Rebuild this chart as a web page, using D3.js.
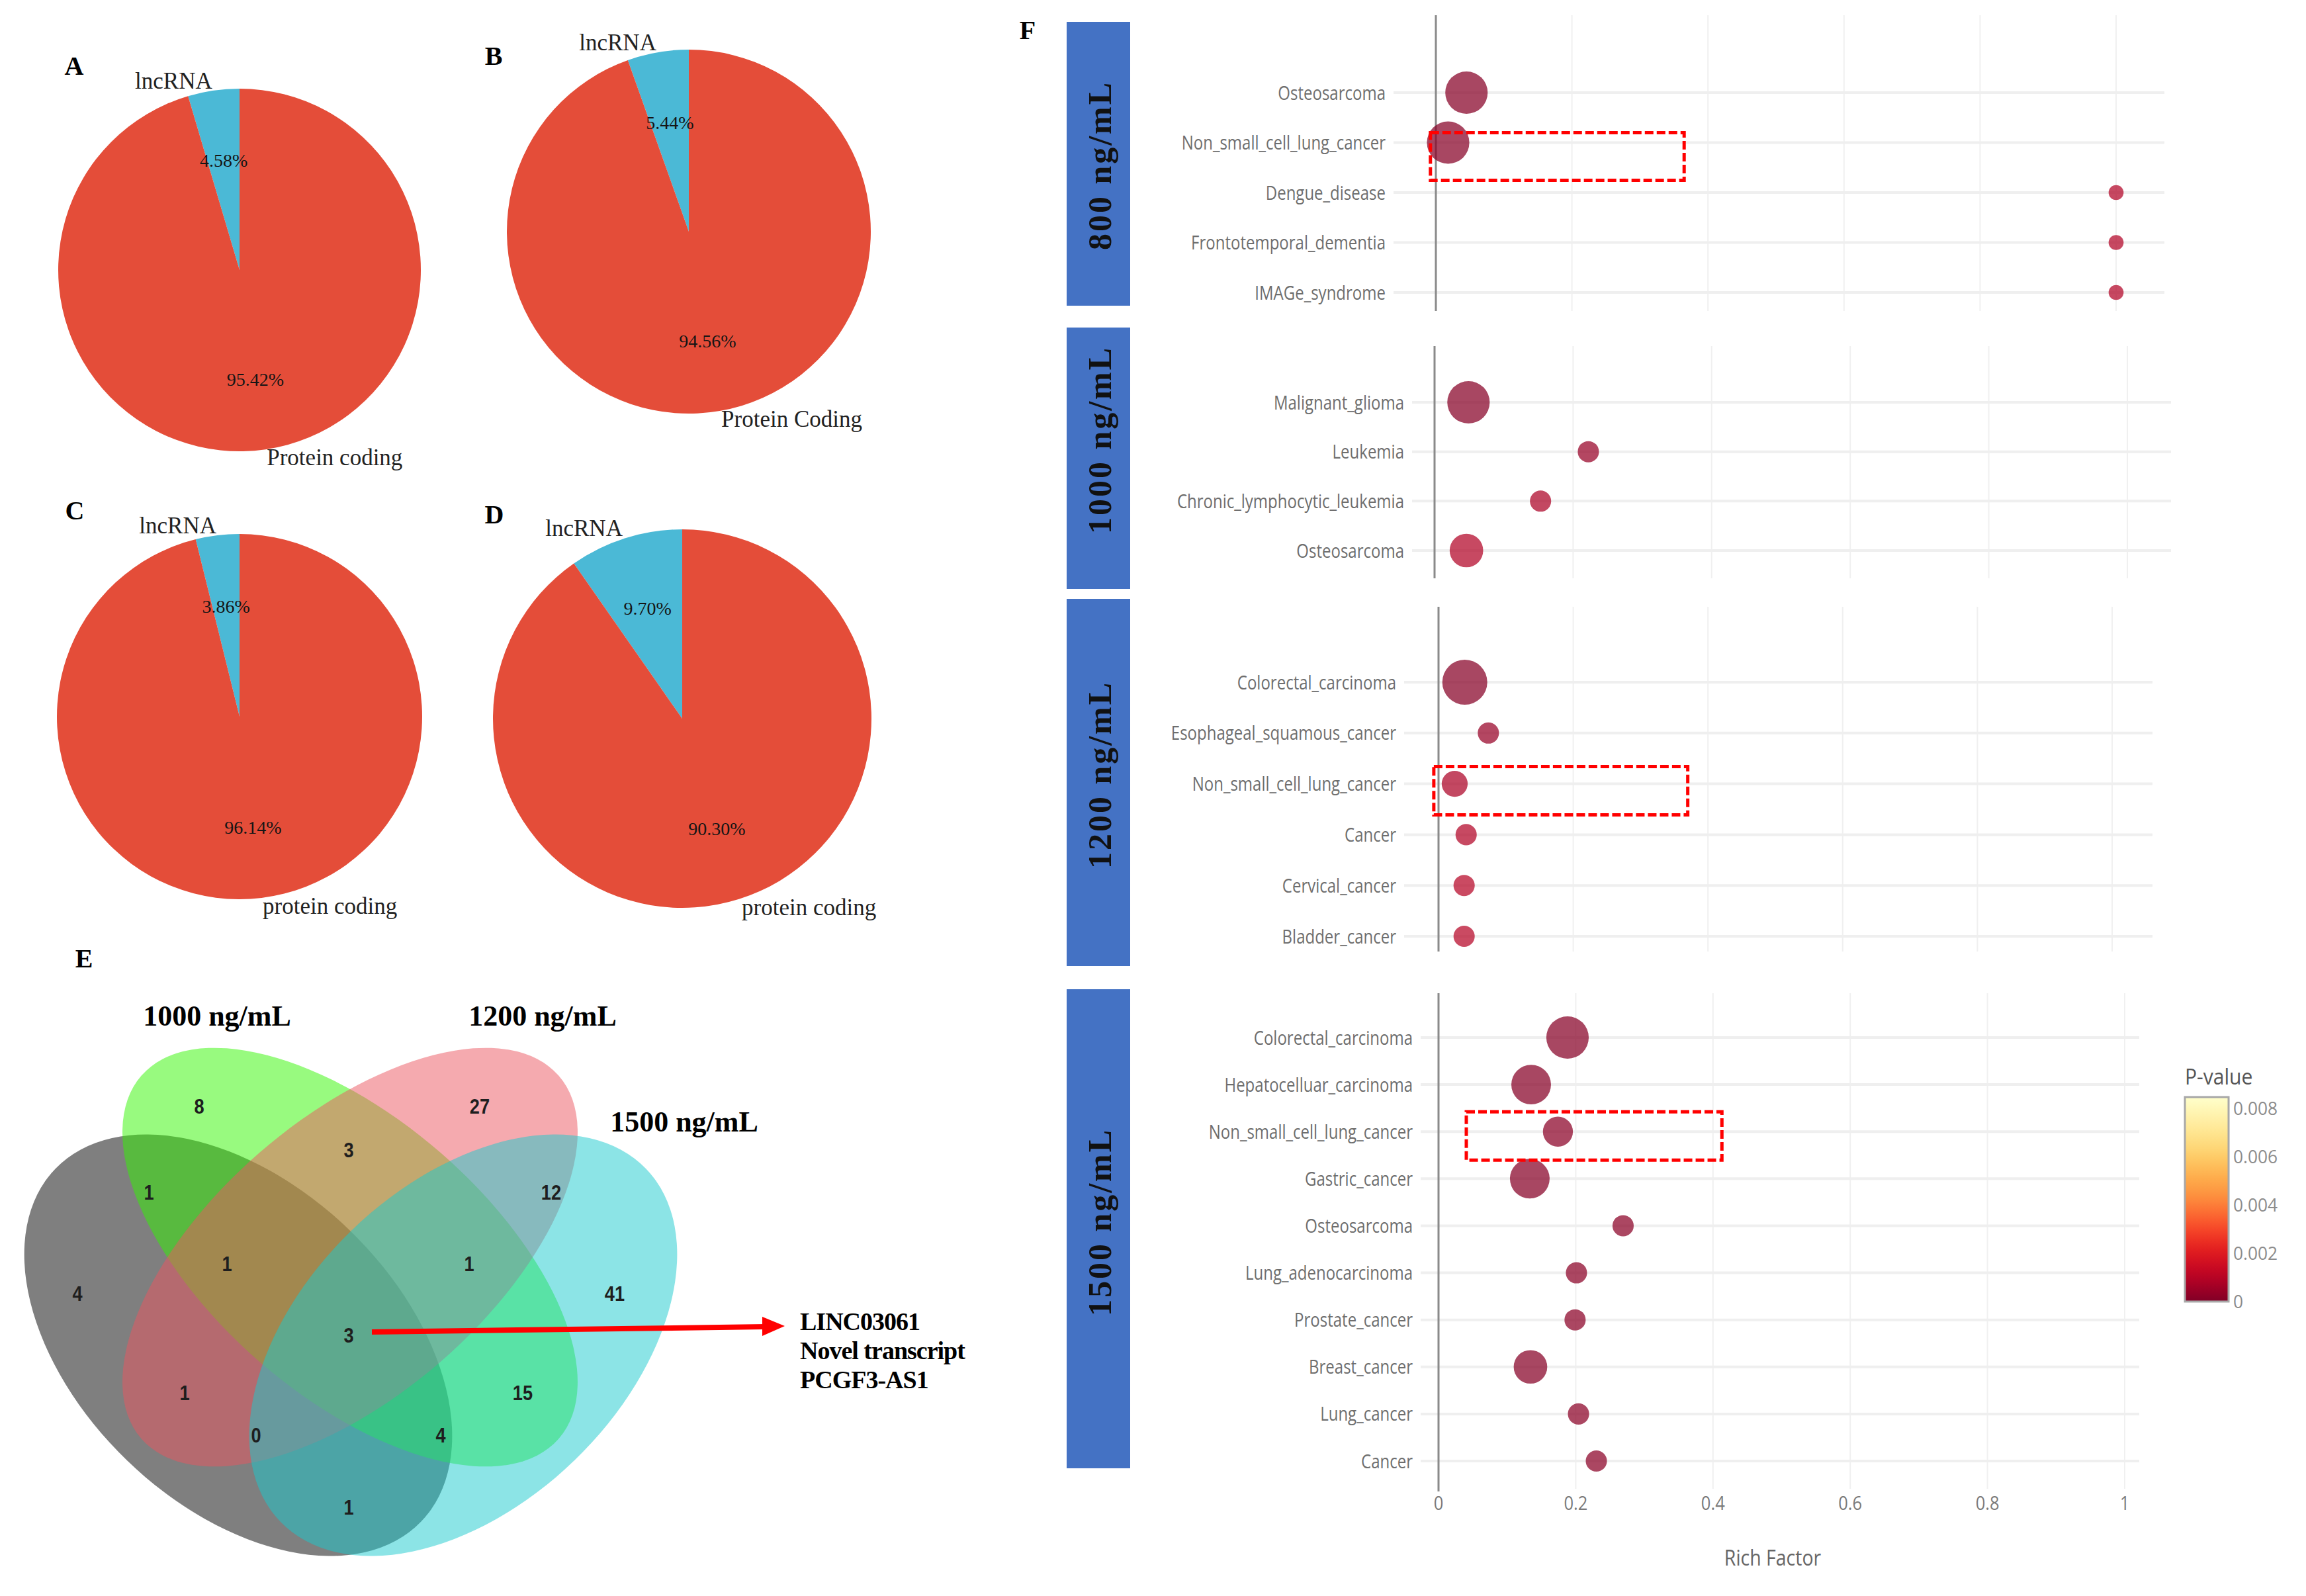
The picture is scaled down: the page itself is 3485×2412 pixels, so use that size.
<!DOCTYPE html>
<html>
<head>
<meta charset="utf-8">
<script src="https://cdn.jsdelivr.net/npm/d3@7"></script>
<style>
  html, body { margin: 0; padding: 0; background: #fff; }
  svg { display: block; }
</style>
</head>
<body>
<svg id="fig" width="3485" height="2412"></svg>
<script>
// ---- A-D : lncRNA vs protein coding
const pieLetters = ["A", "B", "C", "D"];
const lncPct = [4.58, 5.44, 3.86, 9.70];
const codingPct = [95.42, 94.56, 96.14, 90.30];
const codingNames = ["Protein coding", "Protein Coding", "protein coding", "protein coding"];

// ---- E : venn
const vennSetNames = ["", "1000 ng/mL", "1200 ng/mL", "1500 ng/mL"];
const vennRegions = ["G", "L", "P", "C", "GL", "GP", "GC", "LP", "LC", "PC", "GLP", "GLC", "GPC", "LPC", "GLPC"];
const vennCounts = [4, 8, 27, 41, 1, 1, 1, 3, 15, 12, 1, 4, 0, 1, 3];
const vennNote = ["LINC03061", "Novel transcript", "PCGF3-AS1"];

// ---- F : disease enrichment
const doseNames = ["800 ng/mL", "1000 ng/mL", "1200 ng/mL", "1500 ng/mL"];

const diseases800 = ["Osteosarcoma", "Non_small_cell_lung_cancer", "Dengue_disease", "Frontotemporal_dementia", "IMAGe_syndrome"];
const rich800 = [0.045, 0.018, 1.0, 1.0, 1.0];
const genes800 = [8, 8, 1, 1, 1];
const pval800 = [0.0001, 0.0001, 0.0009, 0.0009, 0.0009];

const diseases1000 = ["Malignant_glioma", "Leukemia", "Chronic_lymphocytic_leukemia", "Osteosarcoma"];
const rich1000 = [0.049, 0.222, 0.153, 0.046];
const genes1000 = [8, 2, 2, 5];
const pval1000 = [0.0001, 0.0004, 0.0008, 0.0009];

const diseases1200 = ["Colorectal_carcinoma", "Esophageal_squamous_cancer", "Non_small_cell_lung_cancer", "Cancer", "Cervical_cancer", "Bladder_cancer"];
const rich1200 = [0.039, 0.074, 0.024, 0.041, 0.038, 0.038];
const genes1200 = [9, 2, 3, 2, 2, 2];
const pval1200 = [0.0001, 0.0004, 0.0008, 0.0009, 0.001, 0.001];

const diseases1500 = ["Colorectal_carcinoma", "Hepatocelluar_carcinoma", "Non_small_cell_lung_cancer", "Gastric_cancer", "Osteosarcoma", "Lung_adenocarcinoma", "Prostate_cancer", "Breast_cancer", "Lung_cancer", "Cancer"];
const rich1500 = [0.188, 0.135, 0.174, 0.133, 0.269, 0.201, 0.199, 0.134, 0.204, 0.23];
const genes1500 = [8, 7, 4, 7, 2, 2, 2, 5, 2, 2];
const pval1500 = [0.0001, 0.0001, 0.0002, 0.0001, 0.0002, 0.0002, 0.0002, 0.0001, 0.0002, 0.0002];

const richTicks = [0, 0.2, 0.4, 0.6, 0.8, 1];
const pTicks = [0, 0.002, 0.004, 0.006, 0.008];
const pMax = 0.00847;

const SERIF = "'Liberation Serif', 'Times New Roman', serif";
const SANS = "'Open Sans', sans-serif";
const ARIAL = "'Liberation Sans', Arial, sans-serif";

const svg = d3.select("#fig");
svg.append("rect").attr("width", 3485).attr("height", 2412).attr("fill", "#fff");

// squeeze text horizontally (the source figure is narrowed)
function squeeze(sel, f) {
  sel.each(function () {
    const w = this.getComputedTextLength();
    d3.select(this).attr("textLength", w * f).attr("lengthAdjust", "spacingAndGlyphs");
  });
}

// ================= pies =================
const pieLayout = [
  { cx: 362, cy: 408, r: 274, lx: 112, ly: 99 },
  { cx: 1041, cy: 350, r: 275, lx: 746, ly: 84 },
  { cx: 362, cy: 1083, r: 276, lx: 113, ly: 771 },
  { cx: 1031, cy: 1086, r: 286, lx: 747, ly: 777 }
];

pieLetters.forEach((letter, i) => {
  const L = pieLayout[i];
  const start = -2 * Math.PI * lncPct[i] / 100;
  const pie = d3.pie().sort(null).value(d => d.v)
    .startAngle(start).endAngle(start + 2 * Math.PI);
  const slices = pie([
    { name: "lncRNA", v: lncPct[i], color: "#4bb9d6" },
    { name: codingNames[i], v: codingPct[i], color: "#e44d39" }
  ]);

  const g = svg.append("g").attr("transform", `translate(${L.cx},${L.cy})`);
  const arc = d3.arc().innerRadius(0).outerRadius(L.r);
  const pctArc = d3.arc().innerRadius(L.r * 0.61).outerRadius(L.r * 0.61);

  g.selectAll("path")
    .data(slices)
    .join("path")
    .attr("d", arc)
    .attr("fill", d => d.data.color);

  g.selectAll(".pct")
    .data(slices)
    .join("text")
    .attr("class", "pct")
    .attr("transform", d => `translate(${pctArc.centroid(d)})`)
    .attr("text-anchor", "middle")
    .attr("dy", "0.35em")
    .style("font-family", SERIF)
    .style("font-size", "28px")
    .style("fill", "#151515")
    .text(d => d.data.v.toFixed(2) + "%");

  g.selectAll(".name")
    .data(slices)
    .join("text")
    .attr("class", "name")
    .attr("x", d => {
      const a = (d.startAngle + d.endAngle) / 2;
      return L.r * 1.05 * Math.sin(a);
    })
    .attr("y", d => {
      const a = (d.startAngle + d.endAngle) / 2;
      return -L.r * 1.05 * Math.cos(a);
    })
    .attr("dy", "0.3em")
    .attr("text-anchor", d => ((d.startAngle + d.endAngle) / 2 < 0 ? "end" : "start"))
    .style("font-family", SERIF)
    .style("font-size", "35px")
    .style("fill", "#222")
    .text(d => d.data.name);

  svg.append("text")
    .attr("x", L.lx).attr("y", L.ly)
    .attr("text-anchor", "middle").attr("dy", "0.35em")
    .style("font-family", SERIF).style("font-size", "40px").style("font-weight", "bold")
    .text(letter);
});

// ================= venn =================
const vennShapes = [
  { cx: 360, cy: 2033, rx: 384, ry: 242, rot: 44, fill: "#000000" },
  { cx: 529, cy: 1900, rx: 418, ry: 209, rot: 41, fill: "#31f500" },
  { cx: 529, cy: 1900, rx: 418, ry: 209, rot: -41, fill: "#eb555f" },
  { cx: 700, cy: 2033, rx: 384, ry: 242, rot: -44, fill: "#19c9cd" }
];
const vennPos = {
  G: [117, 1955], L: [301, 1672], P: [725, 1672], C: [929, 1955],
  GL: [225, 1802], GP: [279, 2105], GC: [527, 2278], LP: [527, 1738],
  LC: [790, 2105], PC: [833, 1802], GLP: [343, 1910], GLC: [666, 2169],
  GPC: [387, 2169], LPC: [709, 1910], GLPC: [527, 2018]
};
const vennLabelPos = [null, [328, 1535], [820, 1535], [1034, 1695]];

const vg = svg.append("g");
vg.selectAll("ellipse")
  .data(vennShapes)
  .join("ellipse")
  .attr("rx", d => d.rx)
  .attr("ry", d => d.ry)
  .attr("transform", d => `translate(${d.cx},${d.cy}) rotate(${d.rot})`)
  .attr("fill", d => d.fill)
  .attr("fill-opacity", 0.5);

vg.selectAll(".cnt")
  .data(vennRegions.map((r, i) => ({ r, n: vennCounts[i] })))
  .join("text")
  .attr("class", "cnt")
  .attr("x", d => vennPos[d.r][0])
  .attr("y", d => vennPos[d.r][1])
  .attr("text-anchor", "middle")
  .attr("dy", "0.35em")
  .style("font-family", ARIAL)
  .style("font-size", "32px")
  .style("font-weight", "bold")
  .style("fill", "#1e1e1e")
  .text(d => d.n)
  .call(squeeze, 0.85);

vennSetNames.forEach((name, i) => {
  if (!name) return;
  svg.append("text")
    .attr("x", vennLabelPos[i][0]).attr("y", vennLabelPos[i][1])
    .attr("text-anchor", "middle").attr("dy", "0.35em")
    .style("font-family", SERIF).style("font-size", "44px").style("font-weight", "bold")
    .text(name);
});

svg.append("text")
  .attr("x", 127).attr("y", 1448).attr("text-anchor", "middle").attr("dy", "0.35em")
  .style("font-family", SERIF).style("font-size", "40px").style("font-weight", "bold")
  .text("E");

// arrow to the shared transcripts
svg.append("line")
  .attr("x1", 562).attr("y1", 2013).attr("x2", 1158).attr("y2", 2005)
  .attr("stroke", "#ff0000").attr("stroke-width", 8);
svg.append("path")
  .attr("d", "M1186,2004 L1152,1990 L1152,2019 Z")
  .attr("fill", "#ff0000");

svg.selectAll(".note")
  .data(vennNote)
  .join("text")
  .attr("class", "note")
  .attr("x", 1209)
  .attr("y", (d, i) => 1997 + i * 44)
  .attr("dy", "0.35em")
  .style("font-family", SERIF).style("font-size", "38px").style("font-weight", "bold")
  .style("letter-spacing", "-1px")
  .text(d => d);

// ================= F : bubble panels =================
const panelData = [
  { names: diseases800, rich: rich800, genes: genes800, p: pval800 },
  { names: diseases1000, rich: rich1000, genes: genes1000, p: pval1000 },
  { names: diseases1200, rich: rich1200, genes: genes1200, p: pval1200 },
  { names: diseases1500, rich: rich1500, genes: genes1500, p: pval1500 }
];
const panelLayout = [
  { box: [33, 462], textY: 250, axis: [23, 470], x: [2170, 3198], gridEnd: 3271, labelRight: 2094, rows: [140, 442] },
  { box: [495, 890], textY: 665, axis: [523, 874], x: [2168, 3215], gridEnd: 3281, labelRight: 2122, rows: [608, 832] },
  { box: [905, 1460], textY: 1171, axis: [917, 1438], x: [2174, 3192], gridEnd: 3253, labelRight: 2110, rows: [1031, 1415] },
  { box: [1495, 2219], textY: 1847, axis: [1501, 2254], x: [2174, 3211], gridEnd: 3233, labelRight: 2135, rows: [1568, 2208] }
];
const highlightBoxes = [
  { panel: 0, row: "Non_small_cell_lung_cancer", x: [-0.008, 0.365], dy: [-15, 57] },
  { panel: 2, row: "Non_small_cell_lung_cancer", x: [-0.007, 0.370], dy: [-26, 47] },
  { panel: 3, row: "Non_small_cell_lung_cancer", x: [0.0405, 0.413], dy: [-30, 43] }
];

const size = d3.scaleSqrt().domain([0, 9]).range([0, 34]);
const pColor = p => d3.interpolateYlOrRd(1 - p / pMax);

const fg = svg.append("g");

panelData.forEach((P, k) => {
  const L = panelLayout[k];
  const x = d3.scaleLinear().domain([0, 1]).range(L.x);
  const y = d3.scalePoint().domain(P.names).range(L.rows);
  const g = fg.append("g");

  // blue dose box
  g.append("rect")
    .attr("x", 1612).attr("y", L.box[0])
    .attr("width", 96).attr("height", L.box[1] - L.box[0])
    .attr("fill", "#4472c4");
  g.append("text")
    .attr("transform", `translate(1662,${L.textY}) rotate(-90)`)
    .attr("text-anchor", "middle").attr("dy", "0.33em")
    .style("font-family", SERIF).style("font-size", "50px").style("font-weight", "bold")
    .style("letter-spacing", "3px").style("fill", "#111")
    .text(doseNames[k]);

  // grid
  g.selectAll(".vg")
    .data(richTicks.slice(1))
    .join("line")
    .attr("x1", d => x(d)).attr("x2", d => x(d))
    .attr("y1", L.axis[0]).attr("y2", k === 3 ? 2250 : L.axis[1])
    .attr("stroke", "#f0f0f0").attr("stroke-width", 2);
  g.selectAll(".hg")
    .data(P.names)
    .join("line")
    .attr("x1", L.labelRight + 12).attr("x2", L.gridEnd)
    .attr("y1", d => y(d)).attr("y2", d => y(d))
    .attr("stroke", "#efefef").attr("stroke-width", 4);
  g.append("line")
    .attr("x1", x(0)).attr("x2", x(0))
    .attr("y1", L.axis[0]).attr("y2", L.axis[1])
    .attr("stroke", "#8a8a8a").attr("stroke-width", 3);

  // category labels
  g.selectAll(".cat")
    .data(P.names)
    .join("text")
    .attr("x", L.labelRight)
    .attr("y", d => y(d))
    .attr("dy", "0.35em")
    .attr("text-anchor", "end")
    .style("font-family", SANS).style("font-size", "30px").style("fill", "#6e6e6e")
    .text(d => d)
    .call(squeeze, 0.8);

  // bubbles
  g.selectAll(".bub")
    .data(P.names.map((n, i) => ({ n, r: P.rich[i], c: P.genes[i], p: P.p[i] })))
    .join("circle")
    .attr("cx", d => x(d.r))
    .attr("cy", d => y(d.n))
    .attr("r", d => size(d.c))
    .attr("fill", d => pColor(d.p))
    .attr("fill-opacity", 0.72);

  // red dashed highlight
  highlightBoxes.filter(h => h.panel === k).forEach(h => {
    g.append("rect")
      .attr("x", x(h.x[0])).attr("y", y(h.row) + h.dy[0])
      .attr("width", x(h.x[1]) - x(h.x[0])).attr("height", h.dy[1] - h.dy[0])
      .attr("fill", "none").attr("stroke", "#ff0000")
      .attr("stroke-width", 5).attr("stroke-dasharray", "13 5");
  });

  // x axis only under the last panel
  if (k === 3) {
    g.selectAll(".tick")
      .data(richTicks)
      .join("text")
      .attr("x", d => x(d)).attr("y", 2272).attr("dy", "0.35em")
      .attr("text-anchor", "middle")
      .style("font-family", SANS).style("font-size", "29px").style("fill", "#7a7a7a")
      .text(d => d3.format("~g")(d))
      .call(squeeze, 0.88);
    g.append("text")
      .attr("x", 2679).attr("y", 2355).attr("dy", "0.35em")
      .attr("text-anchor", "middle")
      .style("font-family", SANS).style("font-size", "32px").style("fill", "#666")
      .text("Rich Factor")
      .call(squeeze, 0.89);
  }
});

svg.append("text")
  .attr("x", 1553).attr("y", 45).attr("text-anchor", "middle").attr("dy", "0.35em")
  .style("font-family", SERIF).style("font-size", "40px").style("font-weight", "bold")
  .text("F");

// ---- colour bar
const cb = { x: 3302, y0: 1967, y1: 1658, w: 66 };
const pScale = d3.scaleLinear().domain([0, pMax]).range([cb.y0, cb.y1]);
const grad = svg.append("defs").append("linearGradient")
  .attr("id", "pgrad").attr("x1", 0).attr("y1", 1).attr("x2", 0).attr("y2", 0);
grad.selectAll("stop")
  .data(d3.range(0, 1.0001, 0.05))
  .join("stop")
  .attr("offset", d => d)
  .attr("stop-color", d => pColor(d * pMax));

svg.append("rect")
  .attr("x", cb.x).attr("y", cb.y1)
  .attr("width", cb.w).attr("height", cb.y0 - cb.y1)
  .attr("fill", "url(#pgrad)")
  .attr("stroke", "#a8a8a8").attr("stroke-width", 3);

svg.selectAll(".ptick")
  .data(pTicks)
  .join("text")
  .attr("x", 3375).attr("y", d => pScale(d)).attr("dy", "0.35em")
  .style("font-family", SANS).style("font-size", "28px").style("fill", "#8c8c8c")
  .text(d => d3.format("~g")(d))
  .call(squeeze, 0.94);

svg.append("text")
  .attr("x", 3302).attr("y", 1628).attr("dy", "0.35em")
  .style("font-family", SANS).style("font-size", "32px").style("fill", "#555")
  .text("P-value")
  .call(squeeze, 0.94);
</script>
</body>
</html>
